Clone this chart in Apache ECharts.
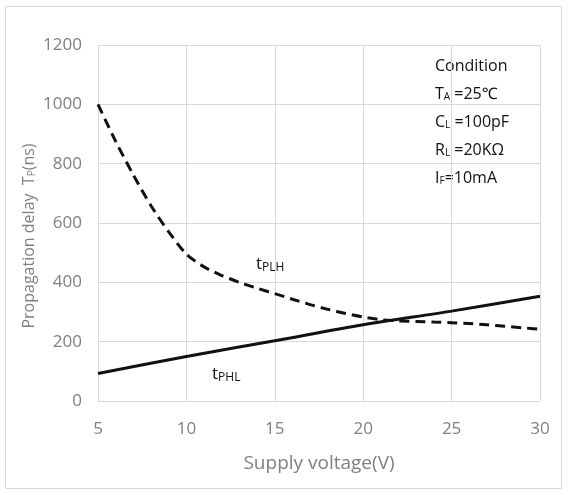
<!DOCTYPE html>
<html><head><meta charset="utf-8">
<script src="https://cdn.jsdelivr.net/npm/echarts@6/dist/echarts.min.js"></script>
<style>html,body{margin:0;padding:0;background:#fff}#c{width:568px;height:495px}</style>
</head><body><div id="c"></div>
<script>
const xTicks = [5, 10, 15, 20, 25, 30];
const yTicks = [0, 200, 400, 600, 800, 1000, 1200];
const voltage = [5,6,7,8,9,10,11,12,13,14,15,16,17,18,19,20,21,22,23,24,25,26,27,28,29,30];
const tPLH = [1000,875,762,658,570,495,452,423,400,380,362,343,325,309,295,283,274,270,268,266,264,261,257,252,247,242];
const phlVoltage = [5,10,15,20,25,30];
const tPHL = [93,150,203,257,303,353];

const chart = echarts.init(document.getElementById('c'));
const font = '"Open Sans", "Noto Sans", sans-serif';
const sub = (fs, pad, c) => ({fontSize: fs, fontFamily: font, fill: c || '#111', verticalAlign: 'bottom', padding: [pad,0,0,0]});
const nrm = (fs, c) => ({fontSize: fs, fontFamily: font, fill: c || '#111'});
chart.setOption({
  animation: false,
  grid: {left: 98, right: 28, top: 45, bottom: 94},
  xAxis: {
    type: 'value', min: 5, max: 30, interval: 5,
    name: 'Supply voltage(V)', nameLocation: 'middle', nameGap: 53,
    nameTextStyle: {color: '#7f7f7f', fontSize: 19, fontFamily: font},
    axisLine: {show: false}, axisTick: {show: false},
    axisLabel: {color: '#7f7f7f', fontSize: 17, fontFamily: font, margin: 20,
      formatter: v => xTicks.includes(v) ? String(v) : ''},
    splitLine: {show: true, lineStyle: {color: '#d9d9d9', width: 1}}
  },
  yAxis: {
    type: 'value', min: 0, max: 1200, interval: 200,
    axisLine: {show: false}, axisTick: {show: false},
    axisLabel: {color: '#7f7f7f', fontSize: 17, fontFamily: font, margin: 16,
      formatter: v => yTicks.includes(v) ? String(v) : ''},
    splitLine: {show: true, lineStyle: {color: '#d9d9d9', width: 1}}
  },
  series: [
    {type: 'line', name: 'tPLH', data: voltage.map((v,i)=>[v,tPLH[i]]), smooth: 0.25, showSymbol: false,
     lineStyle: {color: '#111', width: 3, type: [10,6]}},
    {type: 'line', name: 'tPHL', data: phlVoltage.map((v,i)=>[v,tPHL[i]]), smooth: 0.3, showSymbol: false,
     lineStyle: {color: '#111', width: 3}}
  ],
  graphic: [
    {type: 'rect', shape: {x: 5.5, y: 6.5, width: 556, height: 482}, style: {fill: 'none', stroke: '#d9d9d9', lineWidth: 1}, silent: true, z: -10},
    {type: 'text', x: 29, y: 236, rotation: Math.PI / 2,
     style: {text: '{n|Propagation delay  T}{s|P}{n|(ns)}', align: 'center', verticalAlign: 'middle',
       rich: {n: nrm(16, '#7f7f7f'), s: sub(10, 6, '#7f7f7f')}}},
    {type: 'text', left: 256, top: 256, style: {text: '{t|t}{s|PLH}', rich: {t: nrm(17), s: sub(12, 6)}}},
    {type: 'text', left: 212, top: 366, style: {text: '{t|t}{s|PHL}', rich: {t: nrm(17), s: sub(12, 6)}}},
    {type: 'text', left: 435, top: 58, style: {text: 'Condition', font: '16px ' + font, fill: '#111'}},
    {type: 'text', left: 435, top: 86, style: {text: '{n|T}{s|A}{n| =25℃}', rich: {n: nrm(16), s: sub(10, 6)}}},
    {type: 'text', left: 435, top: 114, style: {text: '{n|C}{s|L}{n| =100pF}', rich: {n: nrm(16), s: sub(10, 6)}}},
    {type: 'text', left: 435, top: 142, style: {text: '{n|R}{s|L}{n| =20KΩ}', rich: {n: nrm(16), s: sub(10, 6)}}},
    {type: 'text', left: 435, top: 170, style: {text: '{n|I}{s|F}{n|=10mA}', rich: {n: nrm(16), s: sub(10, 6)}}}
  ]
});
</script></body></html>
